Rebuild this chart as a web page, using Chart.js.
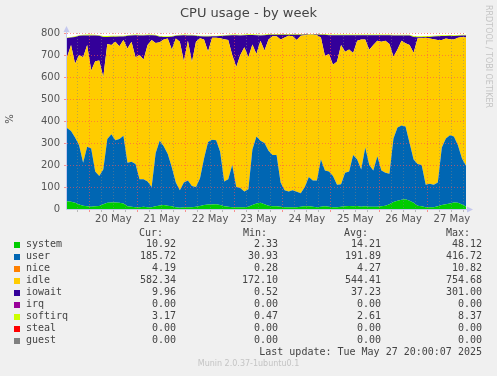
<!DOCTYPE html>
<html>
<head>
<meta charset="utf-8">
<title>CPU usage - by week</title>
<script src="https://cdn.jsdelivr.net/npm/chart.js@4.4.1/dist/chart.umd.min.js"></script>
<style>
  html, body { margin: 0; padding: 0; background: #f0f0f0; }
  #wrap { position: relative; width: 497px; height: 376px; overflow: hidden; font-family: "DejaVu Sans", sans-serif; }
  #chart { position: absolute; left: 0; top: 0; }
  .title { position: absolute; left: 0; top: 5px; width: 497px; text-align: center; font-size: 13px; line-height: 15px; color: #444; }
  .ylabel { position: absolute; left: 2px; top: 113px; width: 16px; text-align: center; font-size: 10px; line-height: 12px; color: #555; transform: rotate(-90deg); }
  .credit { position: absolute; left: 483px; top: 5px; writing-mode: vertical-rl; font-size: 8px; line-height: 10px; color: #c4c4c4; white-space: nowrap; }
  .mono { position: absolute; font-family: "DejaVu Sans Mono", monospace; font-size: 10px; line-height: 12px; color: #444; white-space: pre; }
  .swatch { position: absolute; width: 6px; height: 6px; }
  .version { position: absolute; left: 0; top: 359px; width: 497px; text-align: center; font-size: 8px; line-height: 10px; color: #c4c4c4; }
</style>
</head>
<body>
<div id="wrap">
  <canvas id="chart" width="497" height="376"></canvas>
  <div class="title">CPU usage - by week</div>
  <div class="ylabel">%</div>
  <div class="credit">RRDTOOL / TOBI OETIKER</div>
  <div id="legend"></div>
  <div class="version">Munin 2.0.37-1ubuntu0.1</div>
</div>
<script>
// start: Data
// one sample every 2 hours, first sample at 19 May 13:00 (hour -11 from 20 May 00:00)
const firstHour = -11;
const stepHours = 2;
const days = ["20 May", "21 May", "22 May", "23 May", "24 May", "25 May", "26 May", "27 May"];

const system = [35, 33, 28, 20, 15, 12, 10, 12, 14, 22, 28, 30, 30, 28, 25, 12, 10, 8, 8, 10,
  8, 8, 12, 16, 18, 15, 12, 8, 6, 8, 8, 8, 10, 14, 18, 20, 20, 22, 18, 12,
  10, 8, 8, 8, 8, 10, 18, 25, 28, 22, 15, 12, 12, 10, 8, 8, 8, 8, 10, 12,
  12, 10, 8, 10, 12, 10, 8, 8, 10, 12, 14, 12, 14, 10, 12, 10, 10, 10, 12, 15,
  22, 32, 38, 42, 44, 38, 28, 15, 12, 8, 8, 8, 12, 18, 22, 25, 30, 28, 20, 11];
const user = [333, 322, 297, 270, 195, 271, 265, 158, 136, 158, 290, 310, 282, 290, 308, 198, 205, 197, 127, 125,
  117, 92, 243, 294, 267, 235, 178, 112, 79, 112, 122, 97, 90, 126, 212, 285, 295, 290, 242, 113,
  125, 192, 92, 87, 72, 80, 252, 305, 282, 278, 250, 233, 233, 110, 77, 72, 77, 70, 62, 88,
  133, 120, 122, 215, 163, 160, 142, 102, 102, 153, 156, 233, 211, 170, 268, 190, 165, 230, 163, 150,
  138, 288, 332, 338, 331, 262, 197, 190, 188, 102, 107, 102, 108, 262, 298, 310, 300, 262, 210, 186];
const idle = [322, 390, 335, 410, 480, 462, 355, 502, 525, 420, 432, 405, 448, 422, 435, 520, 545, 485, 565, 545,
  621, 668, 500, 448, 485, 525, 535, 655, 675, 552, 635, 563, 660, 636, 540, 411, 463, 466, 516, 647,
  633, 500, 545, 605, 655, 600, 478, 375, 455, 420, 505, 540, 540, 650, 695, 708, 700, 690, 716, 690,
  647, 662, 660, 555, 520, 535, 506, 560, 633, 550, 555, 464, 540, 590, 490, 524, 570, 525, 585, 600,
  590, 372, 355, 385, 378, 446, 485, 571, 576, 668, 660, 662, 648, 488, 455, 437, 440, 488, 552, 582];
const iowait = [87, 34, 122, 87, 99, 44, 159, 117, 112, 182, 32, 38, 23, 44, 16, 57, 29, 100, 89, 109,
  44, 22, 34, 25, 12, 7, 58, 12, 29, 118, 24, 121, 27, 9, 14, 68, 7, 7, 10, 15,
  21, 90, 145, 89, 55, 101, 43, 85, 24, 70, 22, 7, 7, 22, 12, 4, 7, 24, 4, 3,
  1, 1, 3, 12, 97, 85, 134, 120, 45, 75, 65, 81, 25, 20, 20, 66, 45, 25, 30, 25,
  40, 97, 64, 24, 36, 43, 72, 5, 5, 4, 7, 12, 17, 18, 11, 15, 16, 9, 7, 10];
const softirq = [3, 3, 3, 3, 3, 4, 4, 3, 3, 4, 4, 4, 4, 4, 4, 3, 3, 3, 3, 3,
  3, 3, 3, 3, 3, 3, 3, 3, 3, 3, 3, 3, 3, 3, 3, 3, 3, 3, 3, 3,
  3, 3, 3, 3, 3, 3, 3, 3, 3, 3, 3, 3, 3, 3, 3, 3, 3, 3, 3, 2,
  2, 2, 2, 3, 3, 3, 3, 3, 3, 3, 3, 3, 3, 3, 3, 3, 3, 3, 3, 3,
  3, 3, 3, 3, 3, 3, 4, 4, 4, 4, 4, 4, 4, 4, 4, 4, 4, 4, 3, 3];
const limit = 560;

// legend table
const names = ["system", "user", "nice", "idle", "iowait", "irq", "softirq", "steal", "guest"];
const colors = ["#00cc00", "#0066b3", "#ff8000", "#ffcc00", "#330099", "#990099", "#ccff00", "#ff0000", "#808080"];
const cur = ["10.92", "185.72", "4.19", "582.34", "9.96", "0.00", "3.17", "0.00", "0.00"];
const min = ["2.33", "30.93", "0.28", "172.10", "0.52", "0.00", "0.47", "0.00", "0.00"];
const avg = ["14.21", "191.89", "4.27", "544.41", "37.23", "0.00", "2.61", "0.00", "0.00"];
const max = ["48.12", "416.72", "10.82", "754.68", "301.00", "0.00", "8.37", "0.00", "0.00"];
const lastUpdate = "Last update: Tue May 27 20:00:07 2025";
// end: Data

// start: Chart
const lastHour = firstHour + stepHours * (system.length - 1);

function points(values) {
  return values.map(function (v, i) {
    return { x: firstHour + i * stepHours, y: v };
  });
}

function area(label, values, color, fill) {
  return {
    label: label,
    data: points(values),
    backgroundColor: color,
    borderColor: color,
    borderWidth: 0,
    pointRadius: 0,
    tension: 0,
    fill: fill,
  };
}

const majorGrid = "rgba(255, 80, 80, 0.6)";
const minorGrid = "rgba(130, 130, 130, 0.5)";
const axisColor = "#c4c8ee";

const frame = {
  id: "frame",
  beforeDraw(chart) {
    const a = chart.chartArea;
    const ctx = chart.ctx;
    ctx.save();
    ctx.fillStyle = "#ffffff";
    ctx.fillRect(a.left, a.top, a.right - a.left, a.bottom - a.top);
    ctx.restore();
  },
  afterDraw(chart) {
    const a = chart.chartArea;
    const ctx = chart.ctx;
    ctx.save();
    ctx.strokeStyle = axisColor;
    ctx.lineWidth = 1;
    ctx.beginPath();
    ctx.moveTo(a.left - 0.5, a.bottom + 0.5);
    ctx.lineTo(a.right + 2, a.bottom + 0.5);
    ctx.moveTo(a.left - 0.5, a.bottom + 0.5);
    ctx.lineTo(a.left - 0.5, a.top - 2);
    ctx.stroke();
    ctx.fillStyle = axisColor;
    ctx.beginPath();
    ctx.moveTo(a.left - 0.5, a.top - 7);
    ctx.lineTo(a.left - 3.5, a.top - 1);
    ctx.lineTo(a.left + 2.5, a.top - 1);
    ctx.closePath();
    ctx.fill();
    ctx.beginPath();
    ctx.moveTo(a.right + 7, a.bottom + 0.5);
    ctx.lineTo(a.right + 1, a.bottom - 2.5);
    ctx.lineTo(a.right + 1, a.bottom + 3.5);
    ctx.closePath();
    ctx.fill();
    ctx.restore();
  },
};

new Chart(document.getElementById("chart"), {
  type: "line",
  data: {
    datasets: [
      area("system", system, colors[0], "origin"),
      area("user", user, colors[1], "-1"),
      area("idle", idle, colors[3], "-1"),
      area("iowait", iowait, colors[4], "-1"),
      area("softirq", softirq, colors[6], "-1"),
      {
        label: "limit",
        data: [{ x: firstHour, y: limit }, { x: lastHour, y: limit }],
        borderColor: colors[1],
        borderWidth: 1,
        pointRadius: 0,
        fill: false,
        stack: "limit",
      },
    ],
  },
  options: {
    responsive: false,
    animation: false,
    devicePixelRatio: 1,
    layout: { padding: { left: 0, right: 31, top: 33, bottom: 147 } },
    plugins: { legend: { display: false }, tooltip: { enabled: false } },
    scales: {
      x: {
        type: "linear",
        min: firstHour,
        max: lastHour,
        afterFit: function (s) { s.height = 20; },
        afterBuildTicks: function (s) {
          const t = [];
          for (let h = -6; h < lastHour; h += 6) t.push({ value: h });
          s.ticks = t;
        },
        ticks: {
          autoSkip: false,
          maxRotation: 0,
          padding: 1,
          z: 1,
          color: "#555",
          font: { family: "DejaVu Sans", size: 10 },
          callback: function (v) {
            return (v - 12) % 24 === 0 ? days[(v - 12) / 24] : "";
          },
        },
        grid: {
          z: 1,
          tickLength: 3,
          color: function (c) {
            return c.tick && c.tick.value % 24 === 0 ? majorGrid : minorGrid;
          },
        },
        border: { display: false, dash: [1, 2] },
      },
      y: {
        stacked: true,
        min: 0,
        max: 800,
        afterFit: function (s) { s.width = 67; },
        ticks: {
          stepSize: 50,
          padding: 4,
          z: 1,
          color: "#555",
          font: { family: "DejaVu Sans", size: 10 },
          callback: function (v) { return v % 100 === 0 ? v : ""; },
        },
        grid: {
          z: 1,
          tickLength: 3,
          color: function (c) {
            if (!c.tick || c.tick.value === 0) return "rgba(0,0,0,0)";
            return c.tick.value % 100 === 0 ? majorGrid : minorGrid;
          },
        },
        border: { display: false, dash: [1, 2] },
      },
    },
  },
  plugins: [frame],
});
// end: Chart

// start: Legend
const legend = document.getElementById("legend");
const colRight = [176, 278, 381, 482];
const headRight = [163, 267, 368, 470];

function text(str, top, left, right) {
  const d = document.createElement("div");
  d.className = "mono";
  d.textContent = str;
  d.style.top = top + "px";
  if (left !== null) d.style.left = left + "px";
  if (right !== null) d.style.right = (497 - right) + "px";
  legend.appendChild(d);
}

["Cur:", "Min:", "Avg:", "Max:"].forEach(function (h, i) {
  text(h, 226.5, null, headRight[i]);
});

names.forEach(function (n, i) {
  const top = 238.2 + 12 * i;
  const sw = document.createElement("div");
  sw.className = "swatch";
  sw.style.left = "14px";
  sw.style.top = (top + 3.5) + "px";
  sw.style.background = colors[i];
  legend.appendChild(sw);
  text(n, top, 26, null);
  [cur[i], min[i], avg[i], max[i]].forEach(function (v, j) {
    text(v, top, null, colRight[j]);
  });
});

text(lastUpdate, 238.2 + 12 * 9, null, 482);
// end: Legend
</script>
</body>
</html>
